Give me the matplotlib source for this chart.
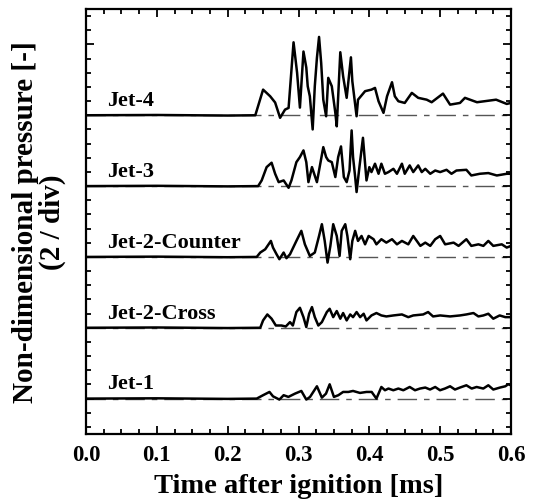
import matplotlib
matplotlib.use("Agg")
import matplotlib.pyplot as plt
from matplotlib.ticker import MultipleLocator
import numpy as np

plt.rcParams['font.family'] = ['Liberation Serif', 'DejaVu Serif']
plt.rcParams['font.weight'] = 'bold'

labels = ["Jet-1", "Jet-2-Cross", "Jet-2-Counter", "Jet-3", "Jet-4"]
offsets = [0, 5, 10, 15, 20]

jet1_t = [0.0, 0.10, 0.20, 0.241, 0.250, 0.259, 0.264, 0.273, 0.279, 0.2857, 0.295, 0.304, 0.311, 0.3163,
          0.326, 0.333, 0.3388, 0.344, 0.350, 0.3563, 0.363, 0.3704, 0.377, 0.3868, 0.396, 0.4033, 0.410,
          0.417, 0.4221, 0.427, 0.4339, 0.441, 0.448, 0.457, 0.4645, 0.4716, 0.479, 0.4857, 0.493, 0.4998,
          0.5068, 0.514, 0.5209, 0.528, 0.537, 0.5445, 0.5515, 0.5609, 0.568, 0.575, 0.5845, 0.592, 0.596, 0.600]
jet1_p = [0.0, 0.02, -0.02, 0.0, 0.24, 0.47, 0.16, -0.07, 0.24, 0.12, 0.35, 0.54, -0.07, 0.12,
          0.87, 0.07, 0.35, 1.01, 0.12, 0.24, 0.47, 0.47, 0.54, 0.40, 0.47, 0.47, 0.0,
          0.82, 0.59, 0.71, 0.59, 0.71, 0.59, 0.82, 0.59, 0.71, 0.78, 0.64, 0.82, 0.59,
          0.71, 0.87, 0.64, 0.78, 0.94, 0.71, 0.82, 0.71, 0.94, 0.64, 0.78, 0.87, 1.01, 0.94]

cross_t = [0.0, 0.10, 0.20, 0.246, 0.250, 0.256, 0.262, 0.268, 0.276, 0.282, 0.288, 0.292, 0.297, 0.302,
           0.307, 0.311, 0.315, 0.319, 0.323, 0.328, 0.333, 0.340, 0.344, 0.349, 0.354, 0.359, 0.363,
           0.368, 0.373, 0.377, 0.382, 0.387, 0.392, 0.396, 0.403, 0.410, 0.417, 0.424, 0.434, 0.446,
           0.455, 0.462, 0.476, 0.483, 0.490, 0.500, 0.514, 0.528, 0.537, 0.547, 0.554, 0.561, 0.568,
           0.575, 0.584, 0.592, 0.600]
cross_p = [0.0, 0.02, -0.02, 0.0, 0.52, 0.94, 0.64, 0.16, 0.16, 0.09, 0.40, 0.16, 1.11, 1.41,
           0.75, 0.05, 0.99, 1.46, 0.75, 0.16, 0.40, 1.11, 1.34, 0.75, 1.18, 0.64, 1.04,
           0.52, 0.94, 0.75, 1.11, 0.75, 0.99, 0.52, 0.87, 1.04, 0.87, 0.80, 0.87, 0.94,
           0.75, 0.87, 0.94, 1.11, 0.80, 0.87, 0.80, 0.87, 0.94, 1.04, 0.80, 0.87, 0.99,
           0.64, 0.87, 0.75, 0.75]

counter_t = [0.0, 0.10, 0.20, 0.241, 0.246, 0.253, 0.261, 0.264, 0.269, 0.273, 0.279, 0.283, 0.288, 0.297,
             0.304, 0.309, 0.316, 0.323, 0.329, 0.333, 0.337, 0.341, 0.345, 0.349, 0.354, 0.358, 0.361,
             0.366, 0.369, 0.373, 0.376, 0.380, 0.384, 0.389, 0.394, 0.399, 0.406, 0.410, 0.417, 0.424,
             0.432, 0.439, 0.446, 0.455, 0.462, 0.472, 0.479, 0.486, 0.493, 0.500, 0.507, 0.519, 0.526,
             0.537, 0.544, 0.554, 0.561, 0.568, 0.575, 0.587, 0.594, 0.600]
counter_p = [0.0, 0.02, -0.02, 0.0, 0.31, 0.54, 1.13, 0.66, 0.19, -0.16, 0.31, -0.09, 0.19, 1.13,
             1.84, 0.89, 0.07, 0.31, 1.48, 2.31, 1.13, -0.40, 0.78, 2.31, 1.48, 0.07, 1.84,
             2.31, 1.48, -0.16, 1.13, 1.84, 1.13, 1.48, 0.89, 1.48, 1.25, 0.89, 1.25, 1.01,
             1.25, 0.89, 1.13, 0.89, 1.48, 0.78, 1.01, 0.78, 1.25, 1.48, 0.89, 1.01, 0.78,
             1.25, 0.78, 0.89, 0.78, 1.13, 0.78, 0.89, 0.66, 0.78]

jet3_t = [0.0, 0.10, 0.20, 0.243, 0.248, 0.255, 0.262, 0.267, 0.272, 0.279, 0.286, 0.290, 0.297, 0.302,
          0.307, 0.311, 0.314, 0.319, 0.326, 0.335, 0.339, 0.342, 0.347, 0.352, 0.356, 0.360, 0.364,
          0.368, 0.372, 0.375, 0.377, 0.380, 0.382, 0.386, 0.391, 0.394, 0.396, 0.400, 0.403, 0.408,
          0.413, 0.417, 0.422, 0.427, 0.434, 0.439, 0.446, 0.450, 0.457, 0.462, 0.469, 0.474, 0.479,
          0.486, 0.493, 0.500, 0.509, 0.516, 0.523, 0.537, 0.544, 0.556, 0.568, 0.580, 0.594, 0.600]
jet3_p = [0.0, 0.02, -0.02, 0.0, 0.40, 1.34, 1.65, 0.87, 0.28, 0.40, -0.12, 0.40, 1.69, 2.05,
          2.52, 1.69, 0.28, 1.34, 0.28, 2.75, 2.05, 1.81, 1.69, 0.64, 2.05, 2.80, 0.64,
          0.28, 1.10, 3.93, 2.05, 0.64, -0.42, 1.34, 3.41, 1.58, 0.40, 1.34, 0.99, 1.58,
          0.87, 1.58, 0.87, 0.99, 1.22, 0.87, 1.58, 0.87, 1.46, 0.99, 1.46, 0.99, 1.22,
          0.87, 1.10, 0.99, 1.15, 0.87, 1.10, 1.15, 0.75, 0.87, 0.92, 0.75, 0.87, 0.87]

jet4_t = [0.0, 0.10, 0.20, 0.239, 0.250, 0.260, 0.267, 0.274, 0.281, 0.286, 0.293, 0.298, 0.302, 0.307,
          0.311, 0.313, 0.316, 0.320, 0.323, 0.326, 0.329, 0.332, 0.335, 0.339, 0.342, 0.347, 0.352,
          0.354, 0.359, 0.363, 0.368, 0.374, 0.376, 0.382, 0.384, 0.394, 0.403, 0.408, 0.413, 0.420,
          0.425, 0.432, 0.436, 0.441, 0.450, 0.460, 0.469, 0.481, 0.488, 0.504, 0.514, 0.528, 0.535,
          0.552, 0.579, 0.594, 0.600]
jet4_p = [0.0, 0.02, -0.02, 0.0, 1.81, 1.34, 0.90, -0.18, 0.40, 0.52, 5.15, 3.00, 0.54, 4.50,
          3.37, 2.05, 1.34, -1.00, 2.05, 4.05, 5.53, 3.70, 1.10, -0.07, 2.64, 2.05, 0.17,
          -0.78, 4.45, 2.75, 1.23, 4.09, 2.40, -0.07, 1.10, 1.70, 1.81, 1.93, 0.99, 0.17,
          1.34, 2.33, 1.34, 0.99, 0.87, 1.58, 1.23, 1.10, 0.92, 1.53, 0.75, 0.87, 1.23,
          0.92, 1.10, 0.80, 0.87]

series_t = [jet1_t, cross_t, counter_t, jet3_t, jet4_t]
series_p = [jet1_p, cross_p, counter_p, jet3_p, jet4_p]

fig = plt.figure(figsize=(5.33, 5.01), dpi=100)
ax = fig.add_axes([0.1614, 0.1337, 0.7973, 0.8483])

for lab, off, t, p in zip(labels, offsets, series_t, series_p):
    ax.axhline(off, color='#555555', lw=1.0, linestyle=(0, (14, 5, 4, 5)), zorder=1)
    ax.plot(t, np.asarray(p) + off, color='black', lw=1.8, zorder=2)
    ax.text(0.03, off + 0.3, lab, fontsize=16, fontweight='bold', ha='left', va='bottom')

ax.set_xlim(0.0, 0.6)
ax.set_ylim(-2.5, 27.5)
ax.xaxis.set_minor_locator(MultipleLocator(0.025))
ax.yaxis.set_major_locator(MultipleLocator(5))
ax.yaxis.set_minor_locator(MultipleLocator(1))
ax.set_xticks([0.0, 0.1, 0.2, 0.3, 0.4, 0.5, 0.6])
ax.set_xticklabels(["0.0", "0.1", "0.2", "0.3", "0.4", "0.5", "0.6"])
ax.tick_params(axis='both', which='both', direction='in', top=True, right=True, width=1.3)
ax.tick_params(axis='both', which='major', length=6)
ax.tick_params(axis='both', which='minor', length=3.5)
ax.tick_params(axis='y', which='both', labelleft=False)
ax.tick_params(axis='x', labelsize=16.5, pad=8)
for lbl in ax.get_xticklabels():
    lbl.set_fontweight('bold')
for s in ax.spines.values():
    s.set_linewidth(1.6)

ax.set_xlabel("Time after ignition [ms]", fontsize=20.5, fontweight='bold', labelpad=6)
fig.text(0.073, 0.557, "Non-dimensional pressure [-]\n(2 / div)", rotation=90,
         ha='center', va='center', fontsize=21, fontweight='bold', multialignment='center',
         linespacing=1.0)

fig.savefig("out.png", dpi=100)
